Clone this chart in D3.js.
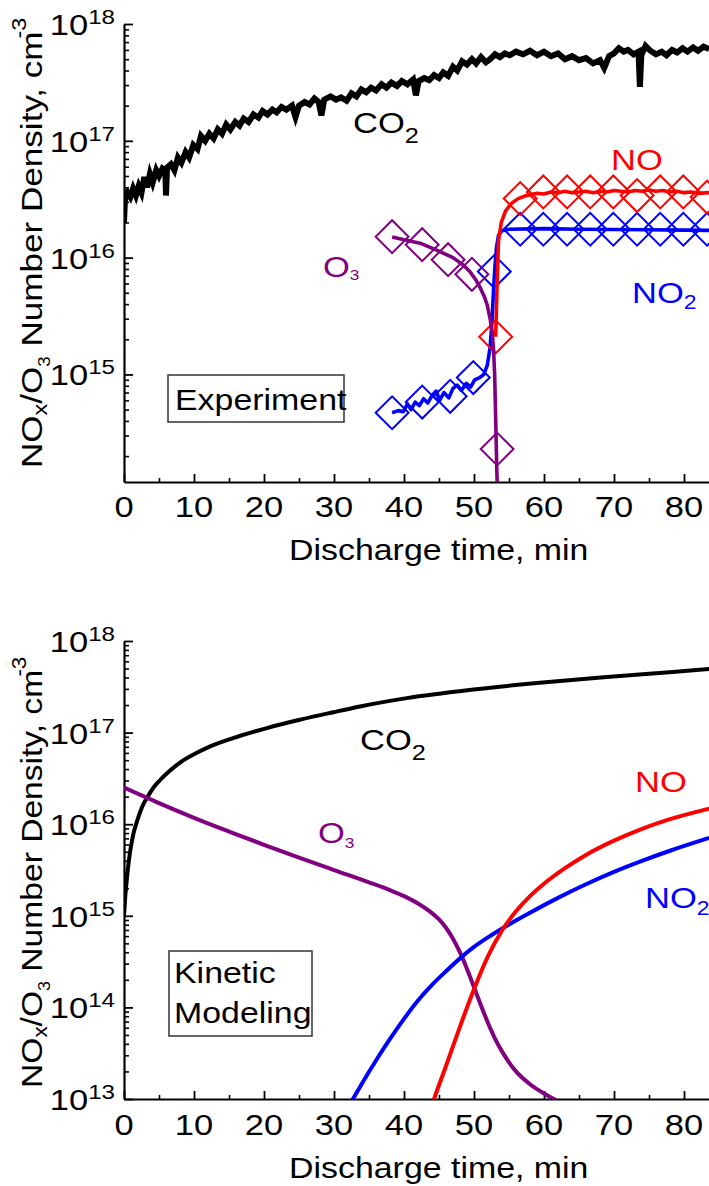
<!DOCTYPE html>
<html><head><meta charset="utf-8">
<script src="https://cdn.jsdelivr.net/npm/d3@7"></script>
<style>
html,body{margin:0;padding:0;background:#fff;}
svg{display:block;}
text{font-family:"Liberation Sans",Arial,sans-serif;}
</style>
</head><body>
<svg id="chart" width="709" height="1186"></svg>
<script>
// ---------------- DATA ----------------
const xTickValues = [0,10,20,30,40,50,60,70,80];
const xMinorTickValues = [5,15,25,35,45,55,65,75];
const topDecades = [15,16,17,18];
const bottomDecades = [13,14,15,16,17,18];

// Experiment (top panel) [time min, density cm^-3]
const co2Exp = [[0.0,2.0e16],[0.15,3.3e16],[0.5,3.6e16],[0.9,3.3e16],[1.3,3.9e16],[1.7,3.4e16],[2.1,4.1e16],[2.5,3.6e16],[2.9,4.9e16],[3.3,4.0e16],[3.7,5.2e16],[4.1,4.4e16],[4.6,5.6e16],[5.0,5.0e16],[5.5,5.8e16],[5.9,5.6e16],[6.0,3.4e16],[6.15,5.9e16],[6.7,6.3e16],[7.2,5.6e16],[7.7,7.2e16],[8.2,6.5e16],[8.8,8.0e16],[9.3,7.2e16],[9.9,9.2e16],[10.5,8.5e16],[11.0,1.1e17],[11.6,1.0e17],[12.2,1.15e17],[12.8,1.05e17],[13.4,1.25e17],[14.0,1.15e17],[14.6,1.38e17],[15.2,1.25e17],[15.9,1.45e17],[16.5,1.35e17],[17.1,1.55e17],[17.8,1.45e17],[18.5,1.68e17],[19.2,1.58e17],[19.8,1.8e17],[20.5,1.68e17],[21.2,1.85e17],[21.8,1.75e17],[22.5,1.95e17],[23.2,1.85e17],[24.0,2.0e17],[24.5,1.6e17],[25.0,2.0e17],[25.8,2.15e17],[26.5,2.05e17],[27.2,2.3e17],[27.8,2.15e17],[28.2,1.65e17],[28.6,2.25e17],[29.5,2.4e17],[30.3,2.25e17],[31.0,2.35e17],[31.8,2.2e17],[32.5,2.55e17],[33.2,2.4e17],[33.9,2.75e17],[34.6,2.6e17],[35.3,2.85e17],[36.0,2.7e17],[36.8,3.05e17],[37.5,2.85e17],[38.2,3.15e17],[39.0,2.95e17],[39.7,3.25e17],[40.5,3.05e17],[41.3,3.35e17],[41.7,2.45e17],[42.1,3.25e17],[42.9,3.45e17],[43.6,3.3e17],[44.3,3.65e17],[45.0,3.45e17],[45.6,3.85e17],[46.3,3.6e17],[47.0,4.3e17],[47.6,4.0e17],[48.3,4.8e17],[49.0,4.5e17],[49.7,5.0e17],[50.3,4.6e17],[51.0,5.2e17],[51.7,4.7e17],[52.3,5.0e17],[53.0,5.5e17],[53.7,5.2e17],[54.4,5.6e17],[55.1,5.4e17],[56.0,5.8e17],[57.0,5.5e17],[58.0,5.9e17],[59.0,5.4e17],[60.0,5.8e17],[61.0,5.3e17],[62.0,5.6e17],[63.0,5.0e17],[64.0,5.3e17],[65.0,4.9e17],[66.0,5.1e17],[67.0,4.6e17],[68.0,4.9e17],[68.6,4.2e17],[69.3,5.3e17],[70.0,5.6e17],[70.7,6.2e17],[71.4,5.8e17],[72.0,6.0e17],[72.8,5.5e17],[73.5,5.8e17],[73.7,2.9e17],[73.9,5.4e17],[74.5,6.5e17],[75.2,5.9e17],[76.0,5.5e17],[76.8,5.8e17],[77.5,5.4e17],[78.3,6.0e17],[79.0,5.7e17],[79.8,6.2e17],[80.5,5.8e17],[81.3,6.3e17],[82.0,5.9e17],[82.8,6.4e17],[83.6,6.1e17]];

const noExp = [[53.1,2.1e15],[53.3,6e15],[53.5,1.4e16],[53.9,2.0e16],[54.5,2.5e16],[55.3,2.9e16],[56.3,3.2e16],[57.5,3.4e16],[59,3.55e16],[60,3.5e16],[61,3.65e16],[62,3.6e16],[63,3.7e16],[64,3.6e16],[65,3.65e16],[66,3.7e16],[67,3.6e16],[68,3.7e16],[69,3.65e16],[70,3.75e16],[71,3.7e16],[72,3.65e16],[73,3.75e16],[74,3.7e16],[75,3.8e16],[76,3.7e16],[77,3.75e16],[78,3.65e16],[79,3.7e16],[80,3.6e16],[81,3.65e16],[82,3.55e16],[83.6,3.6e16]];
const no2Exp = [[38.3,4.7e14],[39.2,4.9e14],[39.9,4.8e14],[40.5,5.6e14],[41.0,5.0e14],[41.6,5.8e14],[42.2,5.4e14],[42.8,6.2e14],[43.4,5.7e14],[44.0,6.6e14],[44.6,7.2e14],[45.1,6.0e14],[45.7,7.0e14],[46.4,6.3e14],[47.0,7.6e14],[47.6,8.1e14],[48.2,7.3e14],[48.9,8.4e14],[49.5,7.8e14],[50.1,9.0e14],[50.8,9.4e14],[51.4,1.0e15],[51.9,1.2e15],[52.3,1.7e15],[52.6,3.0e15],[52.8,5.5e15],[53.0,8.5e15],[53.2,1.2e16],[53.5,1.55e16],[54.0,1.7e16],[55,1.75e16],[60,1.77e16],[65,1.75e16],[70,1.74e16],[75,1.73e16],[80,1.72e16],[83.6,1.71e16]];
const o3Exp = [[38.3,1.5e16],[40,1.42e16],[42.3,1.33e16],[44.5,1.17e16],[47,1.0e16],[48.5,8.6e15],[49.4,7.6e15],[50.3,6.4e15],[50.9,5.5e15],[51.5,4.6e15],[51.9,3.9e15],[52.3,3.0e15],[52.6,2.3e15],[52.8,1.6e15],[52.95,1.0e15],[53.05,5.5e14],[53.15,3.0e14],[53.25,1.6e14],[53.35,1.0e14]];

const noMarkers = [[53.1,2.1e15],[56.6,3.2e16],[59.9,3.65e16],[63.3,3.65e16],[66.6,3.65e16],[69.9,3.65e16],[73.3,3.4e16],[76.6,3.65e16],[79.9,3.65e16],[83.3,3.3e16]];
const no2Markers = [[38.3,4.7e14],[42.6,5.8e14],[46.6,6.5e14],[49.9,9.4e14],[52.9,7.6e15],[56.6,1.75e16],[59.9,1.75e16],[63.3,1.75e16],[66.6,1.75e16],[69.9,1.75e16],[73.3,1.75e16],[76.6,1.75e16],[79.9,1.75e16],[83.3,1.75e16]];
const o3Markers = [[38.3,1.51e16],[42.6,1.29e16],[46.3,9.6e15],[49.7,7.2e15],[53.3,2.3e14]];

// Kinetic modeling (bottom panel)
const co2Model = [[0,1.0e15],[0.2,1.7e15],[0.45,2.7e15],[0.8,4.6e15],[1.3,7.6e15],[1.9,1.1e16],[2.6,1.55e16],[3.3,1.95e16],[4.2,2.5e16],[5.1,3.0e16],[6.5,3.8e16],[8,4.7e16],[10,5.8e16],[12,6.9e16],[15.6,8.7e16],[20.4,1.12e17],[25.1,1.38e17],[29.9,1.67e17],[33.7,1.93e17],[40.4,2.38e17],[49.9,2.95e17],[59.4,3.5e17],[69,4.04e17],[78.4,4.6e17],[83.6,4.95e17]];
const o3Model = [[0,2.51e16],[5,1.70e16],[10,1.175e16],[15,8.32e15],[20,5.96e15],[25,4.32e15],[30,3.16e15],[35,2.32e15],[38,1.905e15],[40,1.64e15],[42,1.365e15],[44,1.07e15],[45,9.12e14],[46,7.41e14],[47,5.62e14],[48,3.98e14],[49,2.63e14],[50,1.66e14],[51,1.05e14],[52,6.76e13],[53,4.57e13],[54,3.31e13],[55,2.51e13],[56,2.0e13],[58,1.45e13],[60,1.15e13],[62,9.5e12],[64,8.3e12]];
const no2Model = [[31.8,7.6e12],[32.7,1.0e13],[34,1.48e13],[36,2.63e13],[38,4.52e13],[40,7.5e13],[42,1.19e14],[44,1.76e14],[46,2.48e14],[48,3.43e14],[50,4.57e14],[52,5.82e14],[55,8.04e14],[58,1.08e15],[62,1.57e15],[66,2.21e15],[70,3.02e15],[74,3.98e15],[78,5.13e15],[83.6,7.08e15]];
const noModel = [[43.9,8.1e12],[44.3,1.0e13],[46,2.29e13],[48,6.17e13],[50,1.58e14],[52,3.63e14],[54,6.92e14],[56,1.12e15],[58,1.64e15],[60,2.24e15],[63,3.31e15],[66,4.62e15],[70,6.61e15],[74,8.91e15],[78,1.135e16],[83.6,1.48e16]];

// ---------------- DRAWING ----------------
const svg = d3.select("#chart");
const COLORS = {co2:"#000000", no:"#ff0000", no2:"#0000ff", o3:"#800080"};
const SX = 1.15; // glyph stretch of reference font

const xTop = d3.scaleLinear().domain([0,83.6]).range([124,709.2]);
const yTop = d3.scaleLog().domain([1.2e14,1e18]).range([482,24]);
const xBot = d3.scaleLinear().domain([0,83.6]).range([124,709.2]);
const yBot = d3.scaleLog().domain([1e13,1e18]).range([1099,641]);

function label(g, x, y, parts, opts={}) {
  const t = g.append("text")
    .attr("transform", `translate(${x},${y})${opts.rotate?' rotate(-90)':''} scale(${opts.sx||SX},1)`)
    .attr("text-anchor", opts.anchor||"start")
    .attr("fill", opts.color||"#000")
    .style("font-size", (opts.size||30)+"px");
  parts.forEach(p => {
    const s = t.append("tspan").text(p.t);
    if (p.size) s.style("font-size", p.size+"px");
    if (p.dy) s.attr("dy", p.dy);
    if (p.dx) s.attr("dx", p.dx);
  });
  return t;
}

function minorValues(lo, hi) {
  const out = [];
  for (let e = Math.floor(Math.log10(lo)); e < Math.ceil(Math.log10(hi)); e++)
    for (let k = 2; k <= 9; k++) { const v = k*Math.pow(10,e); if (v>=lo && v<=hi) out.push(v); }
  return out;
}

function panel(x, y, decades, clipId, yTitleStart, yTitleSx, xTitleBase, tickBase) {
  const g = svg.append("g");
  const [x0,x1] = x.range(); const [yb,yt] = y.range();
  svg.append("clipPath").attr("id", clipId).append("rect")
    .attr("x", x0).attr("y", yt-30).attr("width", x1-x0+20).attr("height", yb-yt+30);
  const dom = y.domain();
  g.append("g").attr("transform",`translate(${x0},0)`)
    .call(d3.axisLeft(y).tickValues(minorValues(dom[0],dom[1])).tickSize(-5).tickSizeOuter(0).tickFormat(()=>""))
    .call(a=>a.select(".domain").remove())
    .call(a=>a.selectAll(".tick line").attr("stroke","#000").attr("stroke-width",1.6));
  g.append("g").attr("transform",`translate(${x0},0)`)
    .call(d3.axisLeft(y).tickValues(decades.map(d=>Math.pow(10,d))).tickSize(-9).tickSizeOuter(0).tickFormat(()=>""))
    .call(a=>a.select(".domain").attr("stroke","#000").attr("stroke-width",2.2))
    .call(a=>a.selectAll(".tick line").attr("stroke","#000").attr("stroke-width",1.8));
  g.append("g").attr("transform",`translate(0,${yb})`)
    .call(d3.axisBottom(x).tickValues(xMinorTickValues).tickSize(-4).tickSizeOuter(0).tickFormat(()=>""))
    .call(a=>a.select(".domain").remove())
    .call(a=>a.selectAll(".tick line").attr("stroke","#000").attr("stroke-width",1.6));
  g.append("g").attr("transform",`translate(0,${yb})`)
    .call(d3.axisBottom(x).tickValues(xTickValues).tickSize(-8).tickSizeOuter(0).tickFormat(()=>""))
    .call(a=>a.select(".domain").attr("stroke","#000").attr("stroke-width",2.2))
    .call(a=>a.selectAll(".tick line").attr("stroke","#000").attr("stroke-width",1.8));
  decades.forEach(d => {
    label(g, 115, y(Math.pow(10,d))+11, [{t:"10"},{t:String(d), size:21, dy:-11}], {anchor:"end"});
  });
  xTickValues.forEach(v => label(g, x(v), tickBase, [{t:String(v)}], {anchor:"middle"}));
  label(g, 289, xTitleBase, [{t:"Discharge time, min"}], {sx:1.13});
  label(g, 42, yTitleStart, [
    {t:"NO"},{t:"x", size:20, dy:5},{t:"/O", dy:-5},{t:"3", size:16, dy:8},
    {t:" Number Density, cm", dy:-8},{t:"-3", size:20, dy:-16, dx:-6}
  ], {rotate:true, sx:yTitleSx});
  return g;
}

function drawLine(g, data, x, y, color, width, clipId, curve, join) {
  g.append("path").datum(data)
    .attr("clip-path", `url(#${clipId})`)
    .attr("fill","none").attr("stroke",color).attr("stroke-width",width)
    .attr("stroke-linejoin",join||"round").attr("stroke-linecap","butt")
    .attr("d", d3.line().x(d=>x(d[0])).y(d=>y(d[1])).curve(curve||d3.curveLinear));
}
function drawMarkers(g, data, x, y, color) {
  const sym = d3.symbol().type(d3.symbolSquare).size(540);
  g.selectAll(null).data(data).enter().append("path")
    .attr("d", sym())
    .attr("transform", d=>`translate(${x(d[0])},${y(d[1])}) rotate(45)`)
    .attr("fill","none").attr("stroke",color).attr("stroke-width",2);
}

// ----- Top panel: Experiment -----
const gTop = panel(xTop, yTop, topDecades, "clipTop", 468, 1.17, 560, 517);
drawLine(gTop, co2Exp, xTop, yTop, COLORS.co2, 6, "clipTop", d3.curveLinear, "miter");
drawLine(gTop, no2Exp, xTop, yTop, COLORS.no2, 3.6, "clipTop");
drawMarkers(gTop, no2Markers, xTop, yTop, COLORS.no2);
drawLine(gTop, noExp, xTop, yTop, COLORS.no, 3.6, "clipTop");
drawMarkers(gTop, noMarkers, xTop, yTop, COLORS.no);
drawLine(gTop, o3Exp, xTop, yTop, COLORS.o3, 3.6, "clipTop");
drawMarkers(gTop, o3Markers, xTop, yTop, COLORS.o3);

label(gTop, 353, 133, [{t:"CO"},{t:"2", size:22, dy:10}]);
label(gTop, 611, 170, [{t:"NO"}], {color:COLORS.no});
label(gTop, 323, 277, [{t:"O"},{t:"3", size:15, dy:3}], {color:COLORS.o3});
label(gTop, 632, 303, [{t:"NO"},{t:"2", size:20, dy:6}], {color:COLORS.no2});
gTop.append("rect").attr("x",168).attr("y",375).attr("width",176).attr("height",47)
  .attr("fill","none").attr("stroke","#333").attr("stroke-width",1.5);
label(gTop, 175, 410, [{t:"Experiment"}], {sx:1.13});

// ----- Bottom panel: Kinetic Modeling -----
const gBot = panel(xBot, yBot, bottomDecades, "clipBot", 1088, 1.12, 1178, 1135);
drawLine(gBot, co2Model, xBot, yBot, COLORS.co2, 4, "clipBot", d3.curveMonotoneX);
drawLine(gBot, o3Model, xBot, yBot, COLORS.o3, 4, "clipBot", d3.curveMonotoneX);
drawLine(gBot, no2Model, xBot, yBot, COLORS.no2, 4, "clipBot", d3.curveMonotoneX);
drawLine(gBot, noModel, xBot, yBot, COLORS.no, 4, "clipBot", d3.curveMonotoneX);

label(gBot, 360, 750, [{t:"CO"},{t:"2", size:22, dy:10}]);
label(gBot, 635, 792, [{t:"NO"}], {color:COLORS.no});
label(gBot, 318, 843, [{t:"O"},{t:"3", size:15, dy:5}], {color:COLORS.o3});
label(gBot, 645, 908, [{t:"NO"},{t:"2", size:20, dy:7}], {color:COLORS.no2});
gBot.append("rect").attr("x",169).attr("y",951).attr("width",143).attr("height",85)
  .attr("fill","none").attr("stroke","#333").attr("stroke-width",1.5);
label(gBot, 174, 983, [{t:"Kinetic"}], {sx:1.13});
label(gBot, 174, 1023, [{t:"Modeling"}], {sx:1.13});
</script>
</body></html>
